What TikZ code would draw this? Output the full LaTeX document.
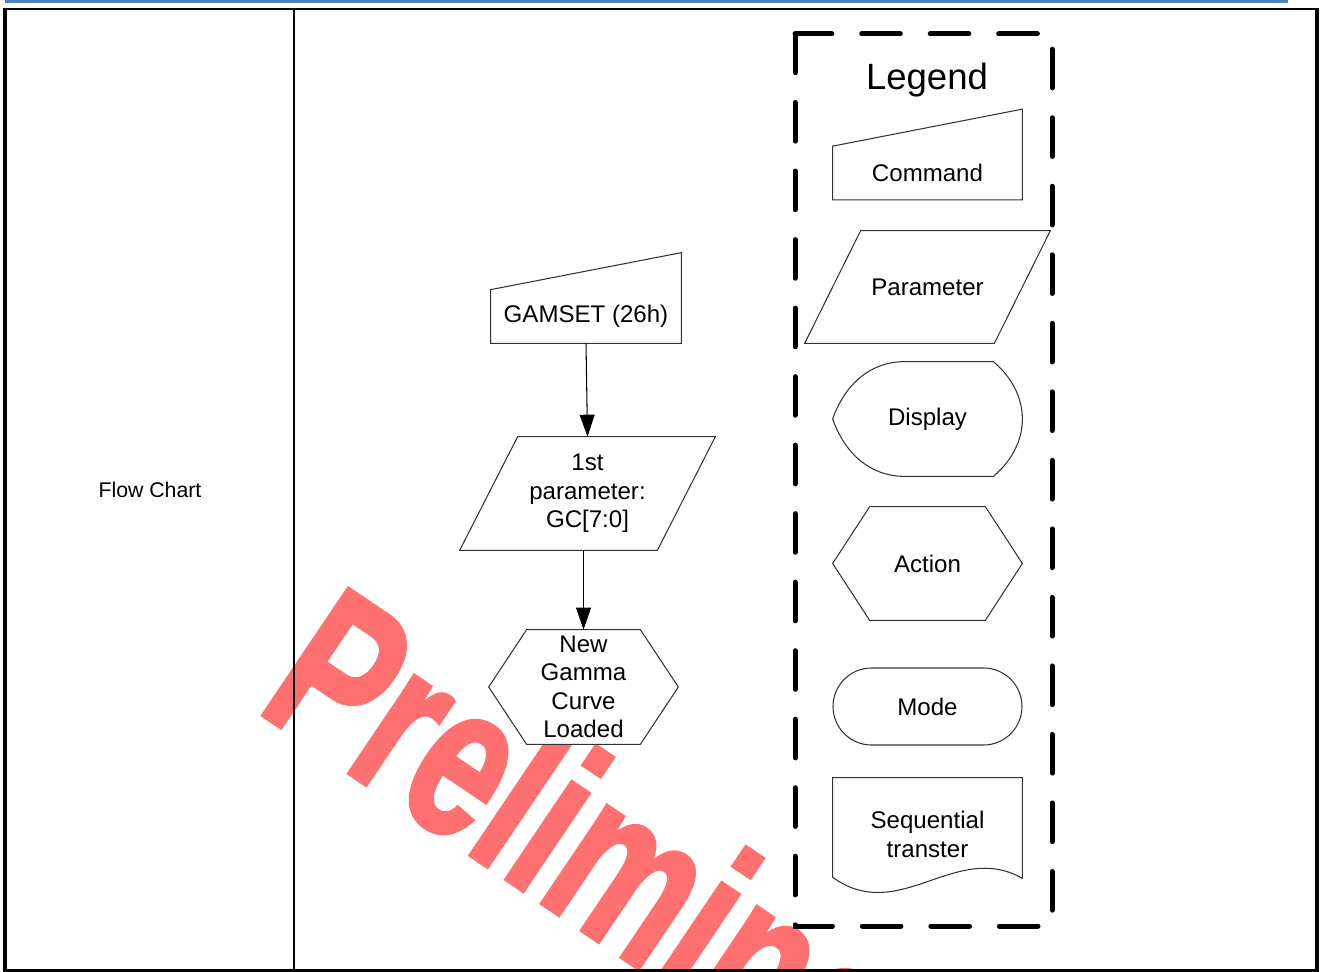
\documentclass[tikz,border=0pt]{standalone}
\usepackage{fontspec}
\setmainfont{Liberation Sans}
\newfontfamily\wmfont[UprightFont={* Bold}, FakeBold=2]{Liberation Sans}
\usepackage{xcolor}
\usepackage{tikz}
\usetikzlibrary{shapes.misc,arrows.meta,calc}

\definecolor{rulebl}{RGB}{79,129,189}
\definecolor{wmred}{RGB}{255,112,112}
\pgfdeclarelayer{wmark}
\pgfdeclarelayer{back}
\pgfsetlayers{wmark,back,main}

\begin{document}
\begin{tikzpicture}[
  x=0.02cm, y=-0.02cm,
  hold/.style={inner sep=0pt, align=center, font=\fontsize{13.7}{16.2}\selectfont},
  outline/.style={draw=black!80, line width=0.6pt, fill=white},
  arr/.style={-{Triangle[length=12.5pt, width=8.5pt]}, line width=0.6pt},
  frame/.style={line width=2pt},
  legendbox/.style={line width=2.85pt, line cap=round, dash pattern=on 22pt off 17pt},
  wmk/.style={font=\wmfont\fontsize{126}{126}\selectfont, text=wmred, inner sep=0pt, transform shape},
]

\def\pix{0.02cm}
\useasboundingbox (0,0) rectangle (1321,972);

% --- Watermark ---
\begin{pgfonlayer}{wmark}
\begin{scope}
\clip (5,9) rectangle (1317,970);
\node[wmk, anchor=base west, rotate=-34, xscale=0.7] (wm) at (254,709) {Preliminary};
\end{scope}
\end{pgfonlayer}

% --- Table ---
\draw[line width=1.5pt, rulebl] (5,1.3) -- (1288,1.3);
\draw[line width=0.85pt] (5,9) -- (1317,9);
\draw[frame] (5,8) -- (5,970.5) -- (1317,970.5);
\draw[line width=2.3pt] (1317,8) -- (1317,971.5);
\draw[line width=1.2pt] (294,9) -- (294,970);
\node[font=\fontsize{12.1}{14}\selectfont] (title) at (150,490) {Flow Chart};

% --- Flow ---
\node[hold, minimum width=190*\pix, minimum height=53*\pix] (cmd) at (586,316.5) {GAMSET (26h)};
\node[hold, minimum width=197*\pix, minimum height=113*\pix] (par) at (587.5,493.5) {1st\\parameter:\\GC[7:0]};
\node[hold, minimum width=113*\pix, minimum height=114*\pix] (hex) at (583.5,687) {New\\Gamma\\Curve\\Loaded};

\begin{pgfonlayer}{back}
\draw[outline] (cmd.south west) -- (cmd.north west) -- ($(cmd.north east)+(0,-37)$) -- (cmd.south east) -- cycle;
\draw[outline] ($(par.north west)+(29,0)$) -- ($(par.north east)+(29,0)$) -- ($(par.south east)+(-29,0)$) -- ($(par.south west)+(-29,0)$) -- cycle;
\draw[outline] (hex.north west) -- (hex.north east) -- ($(hex.east)+(38,0)$) -- (hex.south east) -- (hex.south west) -- ($(hex.west)+(-38,0)$) -- cycle;
\end{pgfonlayer}

\draw[arr] (cmd.south) -- (par.north);
\draw[arr] (par.south -| hex.north) -- (hex.north);

% --- Legend ---
\draw[legendbox] (795,34) rectangle (1052,926);
\node[font=\fontsize{20.8}{24}\selectfont] (legend) at (927,80) {Legend};

\node[hold, minimum width=189*\pix, minimum height=53*\pix] (lcmd) at (927.5,173) {Command};
\node[hold, minimum width=189*\pix, minimum height=112*\pix] (lpar) at (927.5,287) {Parameter};
\node[hold, minimum width=189*\pix, minimum height=114*\pix] (ldsp) at (927.5,419) {Display};
\node[hold, minimum width=115*\pix, minimum height=113*\pix] (lact) at (927.5,563.5) {Action};
\node[hold, rounded rectangle, outline, minimum width=189*\pix, minimum height=77*\pix] (lmode) at (927.5,706.5) {Mode};
\node[hold, minimum width=189*\pix, minimum height=113*\pix] (lseq) at (927.5,834.5) {Sequential\\transter};

\begin{pgfonlayer}{back}
\draw[outline] (lcmd.south west) -- (lcmd.north west) -- ($(lcmd.north east)+(0,-37)$) -- (lcmd.south east) -- cycle;
\draw[outline] ($(lpar.north west)+(28,0)$) -- ($(lpar.north east)+(28,0)$) -- ($(lpar.south east)+(-28,0)$) -- ($(lpar.south west)+(-28,0)$) -- cycle;
\draw[outline] (ldsp.west) .. controls +(12,-34) and +(-35,0) .. ($(ldsp.north west)+(72,0)$)
  -- ($(ldsp.north east)+(-29,0)$) .. controls +(19,16) and +(0,-21) .. (ldsp.east)
  .. controls +(0,21) and +(19,-16) .. ($(ldsp.south east)+(-29,0)$)
  -- ($(ldsp.south west)+(72,0)$) .. controls +(-35,0) and +(12,34) .. (ldsp.west) -- cycle;
\draw[outline] (lact.north west) -- (lact.north east) -- ($(lact.east)+(37,0)$) -- (lact.south east) -- (lact.south west) -- ($(lact.west)+(-37,0)$) -- cycle;
\draw[outline] ($(lseq.south west)+(0,-14)$) -- (lseq.north west) -- (lseq.north east) -- ($(lseq.south east)+(0,-13)$)
  .. controls +(-67,-38) and +(67,48) .. ($(lseq.south west)+(0,-14)$) -- cycle;
\end{pgfonlayer}

\end{tikzpicture}
\end{document}
